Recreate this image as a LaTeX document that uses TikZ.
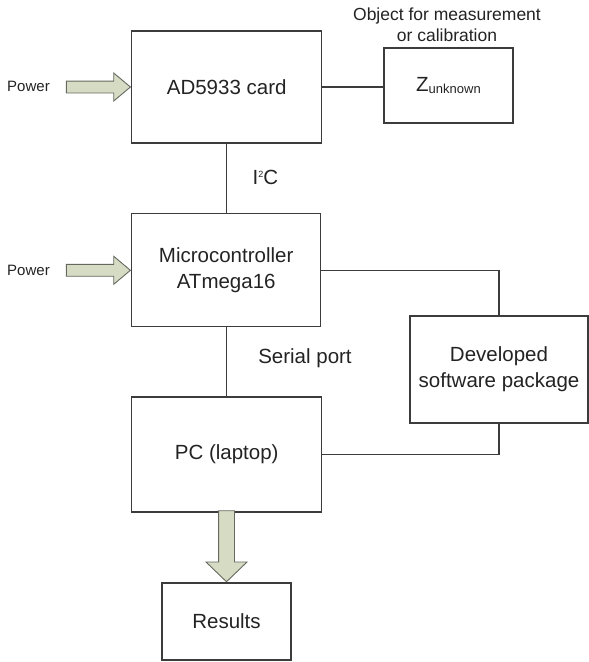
\documentclass[tikz,border=0pt]{standalone}
\usepackage{fontspec}
\setmainfont{Liberation Sans}
\usepackage{tikz}
\usetikzlibrary{calc}
\usetikzlibrary{shapes}
\usetikzlibrary{shapes.arrows}
\definecolor{linegray}{RGB}{60,60,60}
\definecolor{textgray}{RGB}{35,35,35}
\definecolor{arrowfill}{RGB}{214,220,196}
\definecolor{arrowline}{RGB}{100,104,94}
\newcommand{\boxfont}{\fontsize{20.5}{26}\selectfont}
\newcommand{\notefont}{\fontsize{17.5}{21}\selectfont}
\newcommand{\powfont}{\fontsize{15}{18}\selectfont}
\tikzset{
  block/.style={draw=linegray,line width=1.2pt,rectangle,text=textgray,
    align=center,font=\boxfont,inner sep=0pt},
  wire/.style={draw=linegray,line width=1.2pt},
  fatarrow/.style={single arrow,draw=arrowline,fill=arrowfill,line width=0.9pt,
    inner xsep=0pt,inner ysep=5.5pt,single arrow head extend=8pt,
    single arrow tip angle=80,minimum height=64pt},
  bigarrow/.style={fatarrow,inner xsep=7.5pt,inner ysep=0pt,single arrow head extend=12.5pt,
    single arrow tip angle=92,minimum height=71pt,shape border rotate=270}
}

\begin{document}
\begin{tikzpicture}[x=1pt,y=-1pt]
  \useasboundingbox (0,0) rectangle (589,662);
  \node[block,minimum width=190pt,minimum height=112pt] (ad1) at (226.7,87) {AD5933 card};
  \node[block,minimum width=129pt,minimum height=75pt] (z1) at (448.5,85.5)
    {Z{\fontsize{13}{13}\selectfont\raisebox{-2pt}{unknown}}};
  \node[text=textgray,align=center,font=\notefont] (obj1) at (447,25) {Object for measurement\\or calibration};
  \node[block,minimum width=189pt,minimum height=113pt] (mcu1) at (226.2,270.3) {Microcontroller\\ATmega16};
  \node[block,minimum width=178pt,minimum height=107pt] (sw1) at (499,369.5) {Developed\\software package};
  \node[block,minimum width=190pt,minimum height=115pt] (pc1) at (226.7,454.5) {PC (laptop)};
  \node[block,minimum width=129pt,minimum height=77pt] (res1) at (226.5,621.5) {Results};
  \node[text=textgray,font=\boxfont] (i2c1) at (265.5,177) {I\raisebox{7pt}{\fontsize{9}{9}\selectfont 2}C};
  \node[text=textgray,font=\boxfont] (ser1) at (305,358) {Serial port};
  \node[fatarrow,anchor=tip] (pa1) at (ad1.west) {};
  \node[fatarrow,anchor=tip] (pa2) at (mcu1.west) {};
  \node[bigarrow,anchor=tip] (ra1) at (res1.north) {};
  \node[text=textgray,font=\powfont] (p1) at (28.5,86) {Power};
  \node[text=textgray,font=\powfont] (p2) at (28.5,270) {Power};
  \draw[wire] (ad1.east) -- (ad1.east -| z1.west);
  \draw[wire] (ad1.south) -- (ad1.south |- mcu1.north);
  \draw[wire] (mcu1.east) -| (sw1.north);
  \draw[wire] (mcu1.south) -- (mcu1.south |- pc1.north);
  \draw[wire] (pc1.east) -| (sw1.south);
\end{tikzpicture}
\end{document}
